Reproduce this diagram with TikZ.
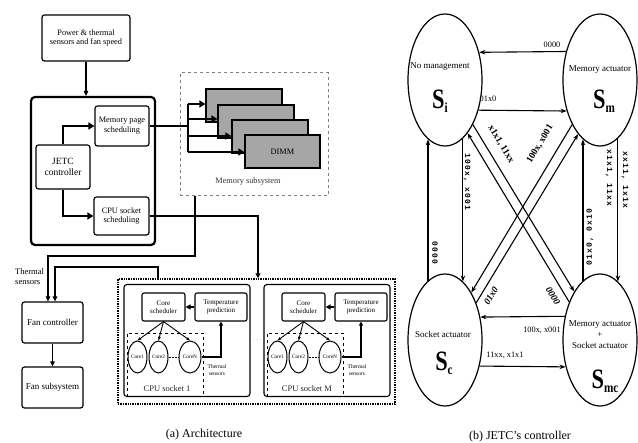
\documentclass[tikz,border=0pt]{standalone}
\usepackage{fontspec}
\setmainfont{Liberation Serif}
\newfontfamily\monof[LetterSpace=15]{Liberation Mono}
\usetikzlibrary{arrows.meta,shapes.geometric}
\newcommand{\Stt}[1]{\scalebox{0.8}[1]{{\fontsize{28}{28}\selectfont\bfseries S}{\fontsize{14}{14}\selectfont\bfseries\raisebox{-4pt}{#1}}}}
\begin{document}
\begin{tikzpicture}[x=1pt,y=-1pt,
 box/.style={draw, rounded corners=2.5pt, line width=1.2pt, align=center, inner sep=0pt, font=\fontsize{8.3}{9.8}\selectfont},
 bigarrow/.style={line width=2.4pt, -{Triangle[length=6pt,width=7pt]}},
 busline/.style={line width=2.4pt},
 thinarrow/.style={line width=1.1pt, -{Triangle[length=5pt,width=4.5pt]}},
 dimm/.style={draw, fill=gray!70, line width=1.2pt, minimum width=76pt, minimum height=33pt, inner sep=0pt},
 smallbox/.style={draw, rounded corners=2pt, line width=1.1pt, align=center, inner sep=0pt, font=\fontsize{7}{8}\selectfont},
 core/.style={draw, ellipse, line width=1pt, minimum width=19pt, minimum height=32pt, inner sep=0pt, font=\fontsize{5.3}{6}\selectfont},
 corearrow/.style={line width=0.9pt, -{Stealth[length=4pt,width=3pt]}},
 state/.style={draw, ellipse, line width=1.2pt, minimum width=74pt, minimum height=132pt, inner sep=0pt},
 fsm/.style={line width=1.1pt, -{Stealth[length=6pt,width=4.5pt]}},
 elab/.style={font=\fontsize{8.3}{9}\selectfont, inner sep=0pt},
 dlab/.style={font=\bfseries\fontsize{9.5}{10}\selectfont, inner sep=0pt},
 vlab/.style={font=\monof\bfseries\fontsize{8}{9}\selectfont, inner sep=0pt},
 stxt/.style={font=\fontsize{9}{14}\selectfont, inner sep=0pt, align=center},
 captxt/.style={font=\fontsize{12}{13}\selectfont, inner sep=0pt}]
\useasboundingbox (0,0) rectangle (638,443);

% ---------------- (a) Architecture ----------------
\node[box, minimum width=88pt, minimum height=46pt] (pw) at (86,38) {Power \& thermal\\sensors and fan speed};
\node[draw, rounded corners=4pt, line width=2.2pt, minimum width=124pt, minimum height=148pt, inner sep=0pt] (jetcbox) at (93,171) {};
\node[box, minimum width=54pt, minimum height=40pt] (mps) at (122,126) {Memory page\\scheduling};
\node[box, minimum width=54pt, minimum height=44pt, font=\fontsize{9.5}{11}\selectfont] (jc) at (63,167) {JETC\\controller};
\node[box, minimum width=55pt, minimum height=38pt] (css) at (121.5,216) {CPU socket\\scheduling};

\draw[thinarrow] (pw.south) -- (jetcbox.north -| pw.south);
\draw[bigarrow] (jc.north) |- (mps.west);
\draw[bigarrow] (jc.south) |- (css.west);

% memory subsystem
\node[draw=gray, dashed, line width=1pt, minimum width=148pt, minimum height=123pt, inner sep=0pt] (ms) at (254,134.5) {};
\node[dimm] (d1) at (244,105.5) {};
\node[dimm] (d2) at (256,121.5) {};
\node[dimm] (d3) at (270,136.5) {};
\node[dimm, minimum width=75pt, font=\fontsize{8.3}{9}\selectfont] (d4) at (282.5,151.5) {DIMM};
\node[font=\fontsize{8.3}{9}\selectfont, text=black!80, inner sep=0pt] (mslab) at (248,182) {Memory subsystem};

\coordinate (b1) at (188,104);
\coordinate (b2) at (188,119);
\coordinate (b3) at (188,136);
\coordinate (b4) at (188,152);
\draw[busline] (mps.east) -- (mps.east -| b1);
\draw[busline] (b1) -- (b4);
\draw[bigarrow] (b1) -- (b1 -| d1.west);
\draw[bigarrow] (b2) -- (b2 -| d2.west);
\draw[bigarrow] (b3) -- (b3 -| d3.west);
\draw[bigarrow] (b4) -- (b4 -| d4.west);

% CPU sockets
\node[draw, densely dotted, line width=1.4pt, minimum width=277pt, minimum height=125pt, inner sep=0pt] (cpu) at (256.5,341.5) {};
\foreach \o/\n/\k in {0/1/a,140/M/b}{
  \node[draw, rounded corners=3pt, line width=1.1pt, minimum width=126pt, minimum height=112pt, inner sep=0pt] (sk\k) at (187+\o,340.5) {};
  \node[smallbox, minimum width=43pt, minimum height=28pt] (cs\k) at (163.5+\o,307) {Core\\scheduler};
  \node[smallbox, minimum width=52pt, minimum height=28pt] (tp\k) at (221+\o,307) {Temperature\\prediction};
  \node[draw, dashed, line width=0.5pt, minimum width=76pt, minimum height=63pt, inner sep=0pt] (ib\k) at (165+\o,364.5) {};
  \node[core] (c1\k) at (137.5+\o,357) {Core1};
  \node[core] (c2\k) at (158.5+\o,357) {Core2};
  \node[core, minimum width=22pt] (cN\k) at (190+\o,357) {CoreN};
  \node[font=\fontsize{8.5}{9}\selectfont, text=black!85, inner sep=0pt] (sl\k) at (167+\o,389) {CPU socket \n};
  \node[font=\fontsize{5.5}{6.5}\selectfont, align=center, inner sep=0pt] (ts\k) at (217+\o,370) {Thermal\\sensors};
  \draw[line width=1.8pt, -{Triangle[length=5pt,width=5pt]}] (tp\k.west) -- (cs\k.east);
  \draw[corearrow] (cs\k.south) -- (c1\k.north);
  \draw[corearrow] (cs\k.south) -- (c2\k.north);
  \draw[corearrow] (cs\k.south) -- (cN\k.north);
  \draw[densely dotted, line width=0.5pt] (c2\k.east) -- (cN\k.west);
  \draw[line width=2pt, -{Triangle[length=4pt,width=4pt]}] (cN\k.east) -| (tp\k.south);
}
\node[font=\fontsize{7}{7}\selectfont, text=gray, inner sep=0pt] (dots) at (257,340) {$\cdots$};

\draw[line width=2.4pt, -{Triangle[length=5pt,width=5pt]}] (css.east) -| ([xshift=1.5pt]cpu.north);

% fan
\node[box, minimum width=61pt, minimum height=41pt, font=\fontsize{9}{10}\selectfont] (fc) at (52.5,322.5) {Fan controller};
\node[box, minimum width=61pt, minimum height=41pt, font=\fontsize{9}{10}\selectfont] (fs) at (52.5,387.5) {Fan subsystem};
\node[font=\fontsize{8.5}{9.5}\selectfont, align=left, anchor=west, inner sep=0pt] (thl) at (15,276.5) {Thermal\\sensors};
\coordinate (msout) at (195,196);
\draw[thinarrow] (msout) -- ++(0,60) -| ([xshift=-4.5pt]fc.north);
\draw[line width=1.6pt, -{Triangle[length=5pt,width=4.5pt]}] ([xshift=-98.5pt]cpu.north) -- ++(0,-11) -| ([xshift=2.5pt]fc.north);
\draw[thinarrow] (fc.south) -- (fs.north);

\node[captxt] (capa) at (204,435) {(a) Architecture};

% ---------------- (b) JETC's controller ----------------
\node[state] (Si) at (445,80) {};
\node[state] (Sm) at (600,80) {};
\node[state] (Sc) at (445,340) {};
\node[state] (Smc) at (600,340) {};

\node[stxt] (tSi) at (440,67) {No management};
\node[inner sep=0pt] (lSi) at (440,101) {\Stt{i}};
\node[stxt] (tSm) at (600,70) {Memory actuator};
\node[inner sep=0pt] (lSm) at (604,101) {\Stt{m}};
\node[stxt] (tSc) at (443,334) {Socket actuator};
\node[inner sep=0pt] (lSc) at (444,363) {\Stt{c}};
\node[stxt] (tSmc) at (600,335) {Memory actuator\\[-3pt]+\\[-3pt]Socket actuator};
\node[inner sep=0pt] (lSmc) at (605,381) {\Stt{mc}};

% horizontal
\draw[fsm] (Sm.140.1) -- (Si.39.9);
\draw[fsm] (Si.-42.3) -- (Sm.-137.7);
\draw[fsm] (Smc.146.5) -- (Sc.33.5);
\draw[fsm] (Sc.-37.4) -- (Smc.-142.6);
% vertical
\draw[fsm] (Sc.106.2) -- (Si.-106.2);
\draw[fsm] (Si.-73.8) -- (Sc.73.8);
\draw[fsm] (Smc.106.2) -- (Sm.-106.2);
\draw[fsm] (Sm.-73.8) -- (Smc.73.8);
% diagonal
\draw[fsm] (Si.-58) -- (Smc.118.3);
\draw[fsm] (Smc.129.4) -- (Si.-67.7);
\draw[fsm] (Sm.-122) -- (Sc.61.7);
\draw[fsm] (Sc.50.6) -- (Sm.-112.3);

\node[elab] (e1) at (552,45) {0000};
\node[elab] (e2) at (488,99) {01x0};
\node[elab] (e3) at (542,330) {100x, x001};
\node[elab] (e4) at (505,355) {11xx, x1x1};
\node[vlab, rotate=-90] (e5) at (435,253) {0000};
\node[vlab, rotate=-90] (e6) at (467,182) {100x, x001};
\node[vlab, rotate=90] (e7) at (590,237) {01x0, 0x10};
\node[vlab, rotate=-90] (e8) at (609,178) {x1x1, 11xx};
\node[vlab, rotate=-90] (e9) at (625,180) {xx11, 1x1x};
\node[dlab, rotate=-59] (e10) at (501,144) {x1x1, 11xx};
\node[dlab, rotate=59] (e11) at (540,144) {100x, x001};
\node[dlab, rotate=59] (e12) at (491,296) {\itshape 01x0};
\node[dlab, rotate=-59] (e13) at (553,296) {\itshape 0000};

\node[captxt] (capb) at (520,437) {(b) JETC's controller};
\end{tikzpicture}
\end{document}
